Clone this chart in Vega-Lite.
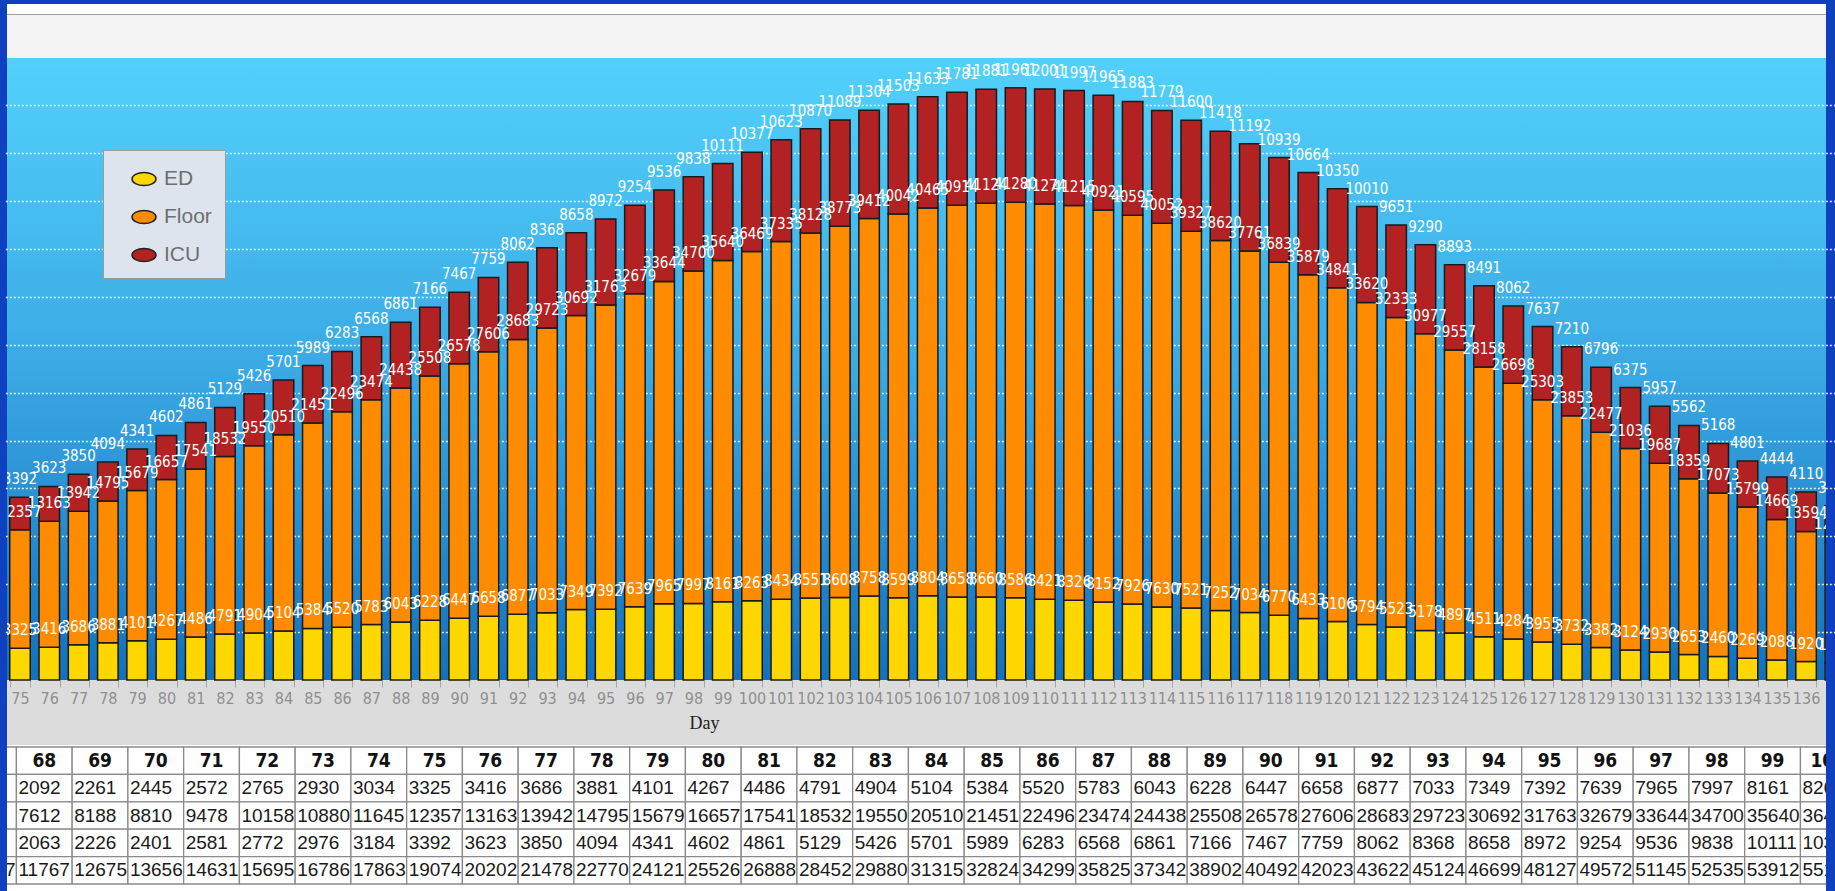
{
  "$schema": "https://vega.github.io/schema/vega-lite/v6.json",
  "background": "#0f40c0",
  "padding": {"left": 7, "top": 4, "right": 9, "bottom": 0},
  "spacing": 0,
  "bounds": "flush",
  "config": {
    "view": {"stroke": null},
    "font": "Liberation Sans",
    "legend": {
      "orient": "none",
      "legendX": 96,
      "legendY": 146,
      "fillColor": "#dde4ee",
      "strokeColor": "#9a9a9a",
      "padding": 13,
      "rowPadding": 12,
      "symbolType": "M 0 0 A 0.8 0.44 0 1 1 1.6 0 A 0.8 0.44 0 1 1 0 0 Z",
      "symbolSize": 900,
      "symbolStrokeColor": "#222222",
      "symbolStrokeWidth": 1.5,
      "symbolOpacity": 1,
      "labelFont": "Liberation Sans",
      "labelFontSize": 21,
      "labelColor": "#6e6e6e",
      "labelOffset": 16
    }
  },
  "datasets": {
    "hosp": [
      {"day": 67, "ED": 1930, "Floor": 7070, "ICU": 1907, "Total": 10907},
      {"day": 68, "ED": 2092, "Floor": 7612, "ICU": 2063, "Total": 11767},
      {"day": 69, "ED": 2261, "Floor": 8188, "ICU": 2226, "Total": 12675},
      {"day": 70, "ED": 2445, "Floor": 8810, "ICU": 2401, "Total": 13656},
      {"day": 71, "ED": 2572, "Floor": 9478, "ICU": 2581, "Total": 14631},
      {"day": 72, "ED": 2765, "Floor": 10158, "ICU": 2772, "Total": 15695},
      {"day": 73, "ED": 2930, "Floor": 10880, "ICU": 2976, "Total": 16786},
      {"day": 74, "ED": 3034, "Floor": 11645, "ICU": 3184, "Total": 17863},
      {"day": 75, "ED": 3325, "Floor": 12357, "ICU": 3392, "Total": 19074},
      {"day": 76, "ED": 3416, "Floor": 13163, "ICU": 3623, "Total": 20202},
      {"day": 77, "ED": 3686, "Floor": 13942, "ICU": 3850, "Total": 21478},
      {"day": 78, "ED": 3881, "Floor": 14795, "ICU": 4094, "Total": 22770},
      {"day": 79, "ED": 4101, "Floor": 15679, "ICU": 4341, "Total": 24121},
      {"day": 80, "ED": 4267, "Floor": 16657, "ICU": 4602, "Total": 25526},
      {"day": 81, "ED": 4486, "Floor": 17541, "ICU": 4861, "Total": 26888},
      {"day": 82, "ED": 4791, "Floor": 18532, "ICU": 5129, "Total": 28452},
      {"day": 83, "ED": 4904, "Floor": 19550, "ICU": 5426, "Total": 29880},
      {"day": 84, "ED": 5104, "Floor": 20510, "ICU": 5701, "Total": 31315},
      {"day": 85, "ED": 5384, "Floor": 21451, "ICU": 5989, "Total": 32824},
      {"day": 86, "ED": 5520, "Floor": 22496, "ICU": 6283, "Total": 34299},
      {"day": 87, "ED": 5783, "Floor": 23474, "ICU": 6568, "Total": 35825},
      {"day": 88, "ED": 6043, "Floor": 24438, "ICU": 6861, "Total": 37342},
      {"day": 89, "ED": 6228, "Floor": 25508, "ICU": 7166, "Total": 38902},
      {"day": 90, "ED": 6447, "Floor": 26578, "ICU": 7467, "Total": 40492},
      {"day": 91, "ED": 6658, "Floor": 27606, "ICU": 7759, "Total": 42023},
      {"day": 92, "ED": 6877, "Floor": 28683, "ICU": 8062, "Total": 43622},
      {"day": 93, "ED": 7033, "Floor": 29723, "ICU": 8368, "Total": 45124},
      {"day": 94, "ED": 7349, "Floor": 30692, "ICU": 8658, "Total": 46699},
      {"day": 95, "ED": 7392, "Floor": 31763, "ICU": 8972, "Total": 48127},
      {"day": 96, "ED": 7639, "Floor": 32679, "ICU": 9254, "Total": 49572},
      {"day": 97, "ED": 7965, "Floor": 33644, "ICU": 9536, "Total": 51145},
      {"day": 98, "ED": 7997, "Floor": 34700, "ICU": 9838, "Total": 52535},
      {"day": 99, "ED": 8161, "Floor": 35640, "ICU": 10111, "Total": 53912},
      {"day": 100, "ED": 8263, "Floor": 36469, "ICU": 10377, "Total": 55109},
      {"day": 101, "ED": 8434, "Floor": 37335, "ICU": 10623},
      {"day": 102, "ED": 8551, "Floor": 38128, "ICU": 10870},
      {"day": 103, "ED": 8608, "Floor": 38773, "ICU": 11089},
      {"day": 104, "ED": 8758, "Floor": 39412, "ICU": 11304},
      {"day": 105, "ED": 8599, "Floor": 40042, "ICU": 11503},
      {"day": 106, "ED": 8804, "Floor": 40465, "ICU": 11633},
      {"day": 107, "ED": 8658, "Floor": 40914, "ICU": 11781},
      {"day": 108, "ED": 8660, "Floor": 41124, "ICU": 11881},
      {"day": 109, "ED": 8586, "Floor": 41280, "ICU": 11961},
      {"day": 110, "ED": 8421, "Floor": 41274, "ICU": 12001},
      {"day": 111, "ED": 8326, "Floor": 41215, "ICU": 11997},
      {"day": 112, "ED": 8152, "Floor": 40921, "ICU": 11965},
      {"day": 113, "ED": 7926, "Floor": 40595, "ICU": 11883},
      {"day": 114, "ED": 7630, "Floor": 40052, "ICU": 11779},
      {"day": 115, "ED": 7521, "Floor": 39327, "ICU": 11600},
      {"day": 116, "ED": 7252, "Floor": 38620, "ICU": 11418},
      {"day": 117, "ED": 7034, "Floor": 37761, "ICU": 11192},
      {"day": 118, "ED": 6770, "Floor": 36839, "ICU": 10939},
      {"day": 119, "ED": 6433, "Floor": 35879, "ICU": 10664},
      {"day": 120, "ED": 6106, "Floor": 34841, "ICU": 10350},
      {"day": 121, "ED": 5794, "Floor": 33620, "ICU": 10010},
      {"day": 122, "ED": 5523, "Floor": 32333, "ICU": 9651},
      {"day": 123, "ED": 5178, "Floor": 30977, "ICU": 9290},
      {"day": 124, "ED": 4897, "Floor": 29557, "ICU": 8893},
      {"day": 125, "ED": 4511, "Floor": 28158, "ICU": 8491},
      {"day": 126, "ED": 4284, "Floor": 26698, "ICU": 8062},
      {"day": 127, "ED": 3955, "Floor": 25303, "ICU": 7637},
      {"day": 128, "ED": 3732, "Floor": 23853, "ICU": 7210},
      {"day": 129, "ED": 3382, "Floor": 22477, "ICU": 6796},
      {"day": 130, "ED": 3124, "Floor": 21036, "ICU": 6375},
      {"day": 131, "ED": 2930, "Floor": 19687, "ICU": 5957},
      {"day": 132, "ED": 2653, "Floor": 18359, "ICU": 5562},
      {"day": 133, "ED": 2460, "Floor": 17073, "ICU": 5168},
      {"day": 134, "ED": 2269, "Floor": 15799, "ICU": 4801},
      {"day": 135, "ED": 2088, "Floor": 14669, "ICU": 4444},
      {"day": 136, "ED": 1920, "Floor": 13594, "ICU": 4110},
      {"day": 137, "ED": 1810, "Floor": 12600, "ICU": 3790}
    ]
  },
  "vconcat": [
    {
      "width": 1819,
      "height": 741,
      "view": {
        "stroke": null,
        "fill": {
          "gradient": "linear",
          "x1": 0, "y1": 0, "x2": 0, "y2": 1,
          "stops": [
            {"offset": 0, "color": "#ffffff"},
            {"offset": 0.0135, "color": "#ffffff"},
            {"offset": 0.0135, "color": "#a0a0a0"},
            {"offset": 0.0155, "color": "#a0a0a0"},
            {"offset": 0.0155, "color": "#f3f3f3"},
            {"offset": 0.0729, "color": "#f3f3f3"},
            {"offset": 0.0729, "color": "#52d1fb"},
            {"offset": 0.49, "color": "#3aa9e4"},
            {"offset": 0.9123, "color": "#1470bc"},
            {"offset": 0.9123, "color": "#dcdcdc"},
            {"offset": 1, "color": "#dcdcdc"}
          ]
        }
      },
      "data": {"name": "hosp"},
      "transform": [
        {"filter": "datum.day >= 75"},
        {"fold": ["ED", "Floor", "ICU"], "as": ["unit", "patients"]}
      ],
      "encoding": {
        "x": {
          "field": "day",
          "type": "ordinal",
          "scale": {"range": [-1.64, 1843], "paddingInner": 0.3, "paddingOuter": 0.15},
          "axis": {
            "title": "Day",
            "offset": -65,
            "values": [75,76,77,78,79,80,81,82,83,84,85,86,87,88,89,90,91,92,93,94,95,96,97,98,99,100,101,102,103,104,105,106,107,108,109,110,111,112,113,114,115,116,117,118,119,120,121,122,123,124,125,126,127,128,129,130,131,132,133,134,135,136],
            "tickBand": "extent",
            "labelAngle": 0,
            "domain": false,
            "grid": false,
            "ticks": true,
            "tickColor": "#a6a6a6",
            "tickSize": 7,
            "labelColor": "#8f8f8f",
            "labelFont": "Liberation Sans Narrow, Arial Narrow, DejaVu Sans Condensed, sans-serif",
            "labelFontSize": 16,
            "labelPadding": 3,
            "labelOverlap": false,
            "titleFont": "Liberation Serif",
            "titleFontSize": 18,
            "titleFontWeight": "normal",
            "titleColor": "#222222",
            "titleX": 697,
            "titleY": 43,
            "titleBaseline": "middle",
            "titleAnchor": null
          }
        },
        "y": {
          "field": "patients",
          "type": "quantitative",
          "stack": "zero",
          "scale": {"domain": [-6786, 70574], "nice": false, "zero": false},
          "axis": {
            "values": [5000,10000,15000,20000,25000,30000,35000,40000,45000,50000,55000,60000],
            "grid": true,
            "gridColor": "#ffffff",
            "gridDash": [2, 2],
            "gridWidth": 1.5,
            "gridOpacity": 0.85,
            "labels": false,
            "ticks": false,
            "domain": false,
            "title": null
          }
        },
        "order": {"field": "unit", "type": "nominal", "sort": "ascending"}
      },
      "layer": [
        {
          "mark": {"type": "bar", "stroke": "#1a1a1a", "strokeWidth": 1.5, "clip": true},
          "encoding": {
            "color": {
              "field": "unit",
              "type": "nominal",
              "scale": {"domain": ["ED", "Floor", "ICU"], "range": ["#FFD700", "#FF8C00", "#B22222"]},
              "legend": {"title": null}
            }
          }
        },
        {
          "mark": {
            "type": "text",
            "color": "#ffffff",
            "baseline": "alphabetic",
            "dy": -13,
            "fontSize": 15,
            "font": "Liberation Sans Narrow, Arial Narrow, DejaVu Sans Condensed, sans-serif",
            "clip": true
          },
          "encoding": {
            "text": {"field": "patients", "type": "quantitative", "format": "d"},
            "detail": {"field": "unit", "type": "nominal"}
          }
        }
      ]
    },
    {
      "width": 1819,
      "height": 146,
      "view": {"stroke": null, "fill": "#ffffff"},
      "data": {"name": "hosp"},
      "transform": [{"filter": "datum.day <= 100"}],
      "encoding": {
        "x": {
          "field": "day",
          "type": "ordinal",
          "scale": {"range": [-46.35, 1849.2], "paddingInner": 0, "paddingOuter": 0},
          "axis": null
        }
      },
      "layer": [
        {
          "mark": {"type": "rect", "fill": "#ffffff", "stroke": "#8a8a8a", "strokeWidth": 1.3, "clip": true},
          "encoding": {
            "y": {
              "datum": "hdr",
              "type": "ordinal",
              "scale": {"domain": ["hdr", "ED", "Floor", "ICU", "Total"], "range": [2, 139], "paddingInner": 0, "paddingOuter": 0},
              "axis": null
            }
          }
        },
        {
          "transform": [{"fold": ["ED", "Floor", "ICU", "Total"], "as": ["row", "val"]}],
          "mark": {"type": "rect", "fill": "#ffffff", "stroke": "#8a8a8a", "strokeWidth": 1.3, "clip": true},
          "encoding": {
            "y": {"field": "row", "type": "ordinal", "axis": null}
          }
        },
        {
          "mark": {
            "type": "text",
            "color": "#111111",
            "fontWeight": "bold",
            "fontSize": 19,
            "font": "Liberation Sans Narrow, Arial Narrow, DejaVu Sans Condensed, sans-serif",
            "align": "center",
            "baseline": "middle",
            "clip": true
          },
          "encoding": {
            "y": {"datum": "hdr", "type": "ordinal", "axis": null},
            "text": {"field": "day", "type": "ordinal"}
          }
        },
        {
          "transform": [{"fold": ["ED", "Floor", "ICU", "Total"], "as": ["row", "val"]}],
          "mark": {
            "type": "text",
            "color": "#1a1a1a",
            "fontSize": 19,
            "font": "Liberation Sans",
            "align": "left",
            "baseline": "middle",
            "dx": 2,
            "clip": true
          },
          "encoding": {
            "x": {"field": "day", "type": "ordinal", "bandPosition": 0, "axis": null},
            "y": {"field": "row", "type": "ordinal", "axis": null},
            "text": {"field": "val", "type": "quantitative", "format": "d"}
          }
        }
      ]
    }
  ]
}
